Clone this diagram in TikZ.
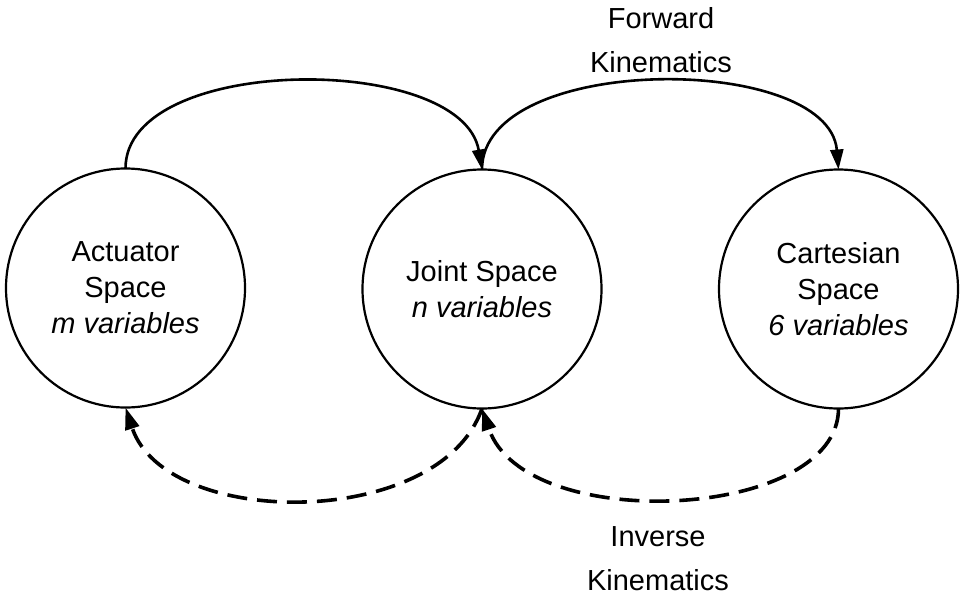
\documentclass[tikz,border=0pt]{standalone}
\usepackage{fontspec}
\setmainfont{Liberation Sans}
\usetikzlibrary{arrows.meta}
\begin{document}
\begin{tikzpicture}[x=1pt,y=-1pt,
  space/.style={circle,draw,line width=2.2pt,minimum size=239pt,inner sep=0pt,outer sep=0pt,align=center,font=\fontsize{29}{36}\selectfont},
  lbl/.style={align=center,font=\fontsize{29}{44}\selectfont},
  fwd/.style={line width=2.6pt,-{Triangle[length=20pt,width=13pt]}},
  inv/.style={line width=3.6pt,dash pattern=on 20pt off 10pt,-{Triangle[length=22pt,width=14pt]}}]
\useasboundingbox (0,0) rectangle (964,597);
\node[space] (a) at (125.5,288) {Actuator\\Space\\\textit{m variables}};
\node[space] (j) at (482,289) {Joint Space\\\textit{n variables}};
\node[space] (c) at (838.5,289) {Cartesian\\Space\\\textit{6 variables}};
\node[lbl] (fk) at (661,40) {Forward\\Kinematics};
\node[lbl] (ik) at (658,559) {Inverse\\Kinematics};
\draw[fwd] (a.north) .. controls +(0,-115) and +(-20,-117) .. (j.north);
\draw[fwd] (j.north) .. controls +(0,-117) and +(-10,-117) .. (c.north);
\draw[inv] (c.south) .. controls +(0,112) and +(43,127) .. (j.south);
\draw[inv] (j.south) .. controls +(-42,122) and +(40,122) .. (a.south);
\end{tikzpicture}
\end{document}
